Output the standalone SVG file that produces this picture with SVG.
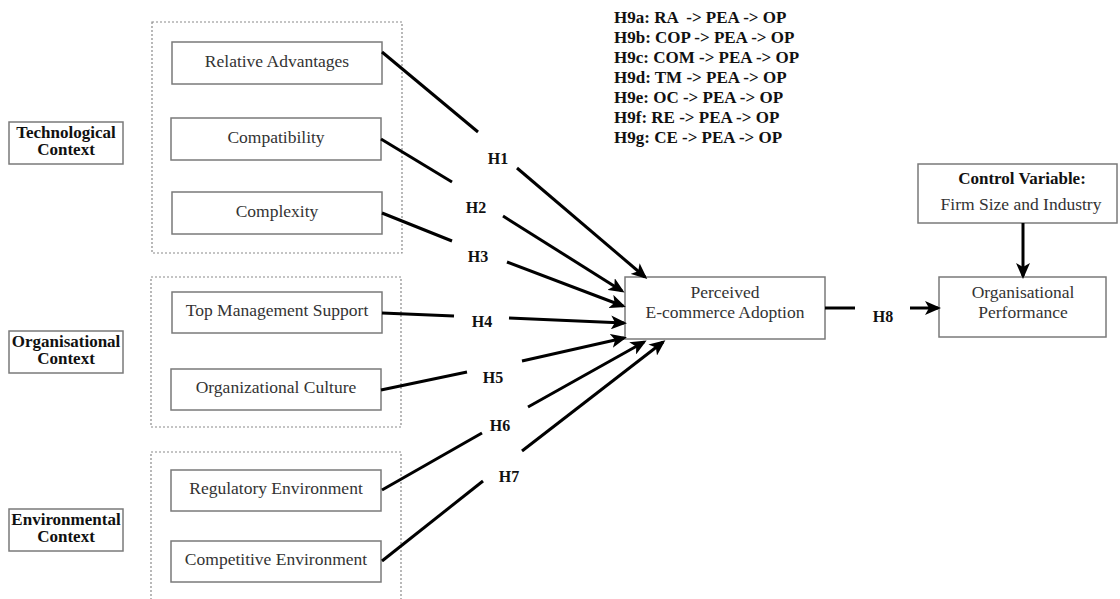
<svg xmlns="http://www.w3.org/2000/svg" width="1120" height="599" viewBox="0 0 1120 599">
<defs>
<style>
.box{fill:#fff;stroke:#7a7a7a;stroke-width:1.5}
.grp{fill:none;stroke:#8a8a8a;stroke-width:1.2;stroke-dasharray:2,2}
.t{font-family:"Liberation Serif","Times New Roman",serif;font-size:17.5px;fill:#333;text-anchor:middle}
.tb{font-family:"Liberation Serif","Times New Roman",serif;font-size:17px;font-weight:bold;fill:#111;text-anchor:middle}
.h{font-family:"Liberation Serif","Times New Roman",serif;font-size:16px;font-weight:bold;fill:#111;text-anchor:middle}
.h9{font-family:"Liberation Serif","Times New Roman",serif;font-size:17px;font-weight:bold;fill:#111;white-space:pre}
.ln{stroke:#000;stroke-width:3;fill:none}
.ar{stroke:#000;stroke-width:3;fill:none;marker-end:url(#ah)}
</style>
<marker id="ah" markerUnits="userSpaceOnUse" viewBox="0 0 16 14" markerWidth="16" markerHeight="14" refX="13" refY="7" orient="auto">
<path d="M0,0 L16,7 L0,14 L4,7 z" fill="#000"/>
</marker>
</defs>
<rect width="1120" height="599" fill="#fff"/>

<g id="groups">
<rect class="grp" x="152" y="22" width="250" height="231"/>
<rect class="grp" x="151" y="277" width="250" height="150"/>
<path class="grp" d="M151,604 L151,452 L401,452 L401,604"/>
</g>

<g id="tech-context"><rect class="box" x="9" y="122" width="114" height="42"/><text class="tb" x="66" y="138">Technological</text><text class="tb" x="66" y="155">Context</text></g>
<g id="org-context"><rect class="box" x="9" y="331" width="114" height="42"/><text class="tb" x="66" y="347">Organisational</text><text class="tb" x="66" y="364">Context</text></g>
<g id="env-context"><rect class="box" x="9" y="509" width="114" height="42"/><text class="tb" x="66" y="525">Environmental</text><text class="tb" x="66" y="542">Context</text></g>

<g id="ra"><rect class="box" x="172" y="42" width="210" height="42"/><text class="t" x="277" y="67">Relative Advantages</text></g>
<g id="cop"><rect class="box" x="171" y="118" width="210" height="42"/><text class="t" x="276" y="143">Compatibility</text></g>
<g id="com"><rect class="box" x="172" y="192" width="210" height="42"/><text class="t" x="277" y="217">Complexity</text></g>
<g id="tm"><rect class="box" x="172" y="292" width="210" height="41"/><text class="t" x="277" y="316">Top Management Support</text></g>
<g id="oc"><rect class="box" x="171" y="369" width="210" height="41"/><text class="t" x="276" y="393">Organizational Culture</text></g>
<g id="re"><rect class="box" x="171" y="470" width="210" height="41"/><text class="t" x="276" y="494">Regulatory Environment</text></g>
<g id="ce"><rect class="box" x="171" y="541" width="210" height="41"/><text class="t" x="276" y="565">Competitive Environment</text></g>

<g id="pea"><rect class="box" x="625" y="277" width="200" height="62"/><text class="t" x="725" y="298">Perceived</text><text class="t" x="725" y="318">E-commerce Adoption</text></g>
<g id="op"><rect class="box" x="939" y="277" width="167" height="60"/><text class="t" x="1023" y="298">Organisational</text><text class="t" x="1023" y="318">Performance</text></g>
<g id="control"><rect class="box" x="918" y="164" width="199" height="59"/><text class="tb" x="1022" y="184">Control Variable:</text><text class="t" x="1021" y="210">Firm Size and Industry</text></g>

<g id="h9-list">
<text class="h9" x="614" y="23">H9a: RA  -&gt; PEA -&gt; OP</text>
<text class="h9" x="614" y="43">H9b: COP -&gt; PEA -&gt; OP</text>
<text class="h9" x="614" y="63">H9c: COM -&gt; PEA -&gt; OP</text>
<text class="h9" x="614" y="83">H9d: TM -&gt; PEA -&gt; OP</text>
<text class="h9" x="614" y="103">H9e: OC -&gt; PEA -&gt; OP</text>
<text class="h9" x="614" y="123">H9f: RE -&gt; PEA -&gt; OP</text>
<text class="h9" x="614" y="143">H9g: CE -&gt; PEA -&gt; OP</text>
</g>

<g id="connectors">
<line class="ln" x1="382" y1="52" x2="478" y2="132"/><line class="ar" x1="517" y1="168" x2="645" y2="277"/>
<line class="ln" x1="381" y1="139" x2="452" y2="182"/><line class="ar" x1="503" y1="216" x2="622" y2="291"/>
<line class="ln" x1="382" y1="213" x2="452" y2="241"/><line class="ar" x1="507" y1="262" x2="623" y2="306"/>
<line class="ln" x1="382" y1="313" x2="454" y2="316"/><line class="ar" x1="509" y1="318" x2="624" y2="323"/>
<line class="ln" x1="381" y1="390" x2="467" y2="372"/><line class="ar" x1="522" y1="361" x2="624" y2="338"/>
<line class="ln" x1="382" y1="490" x2="482" y2="433"/><line class="ar" x1="528" y1="407" x2="644" y2="342"/>
<line class="ln" x1="382" y1="561" x2="483" y2="481"/><line class="ar" x1="522" y1="451" x2="663" y2="342"/>
<line class="ln" x1="825" y1="308" x2="855" y2="308"/><line class="ar" x1="910" y1="308" x2="938" y2="308"/>
<line class="ar" x1="1023" y1="223" x2="1023" y2="276"/>
</g>

<g id="labels">
<text class="h" x="498" y="164">H1</text>
<text class="h" x="476" y="213">H2</text>
<text class="h" x="478" y="262">H3</text>
<text class="h" x="482" y="327">H4</text>
<text class="h" x="493" y="383">H5</text>
<text class="h" x="500" y="431">H6</text>
<text class="h" x="509" y="482">H7</text>
<text class="h" x="883" y="322">H8</text>
</g>
</svg>
